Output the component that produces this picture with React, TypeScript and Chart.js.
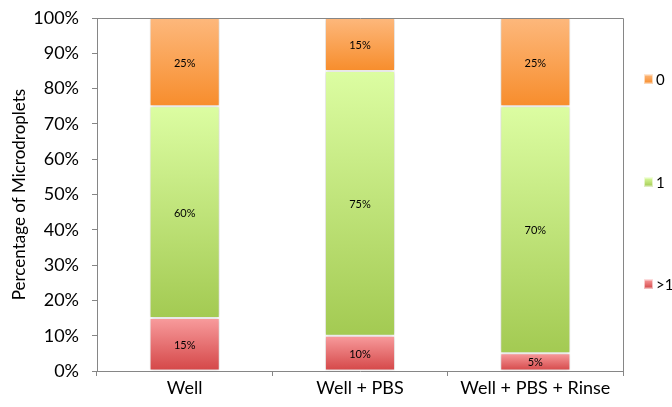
import { useEffect, useRef } from "react";
import { Chart, registerables } from "chart.js";

Chart.register(...registerables);

// Share of microdroplets per treatment, stacked to 100%
const categories = ["Well", "Well + PBS", "Well + PBS + Rinse"];
const seriesNames = [">1", "1", "0"];
const moreThanOne = [15, 10, 5];
const exactlyOne = [60, 75, 70];
const none = [25, 15, 25];
const yTickValues = [0, 10, 20, 30, 40, 50, 60, 70, 80, 90, 100];

// Top / bottom colours of each segment's vertical gradient
const gradientStops: Record<string, [string, string]> = {
  ">1": ["#F89C9D", "#D44647"],
  "1": ["#DCFDA2", "#A3CA52"],
  "0": ["#FDB87C", "#F78D2C"],
};

const FONT = "Lato, 'Open Sans', sans-serif";
const AXIS_GREY = "#868686";

function segmentGradient(chart: Chart, key: string, y0: number, y1: number) {
  const [top, bottom] = gradientStops[key];
  if (!isFinite(y0) || !isFinite(y1) || y0 === y1) return bottom;
  const g = chart.ctx.createLinearGradient(0, y0, 0, y1);
  g.addColorStop(0, top);
  g.addColorStop(1, bottom);
  return g;
}

const barShadow = {
  id: "barShadow",
  beforeDatasetsDraw(chart: Chart) {
    const ctx = chart.ctx;
    ctx.save();
    ctx.shadowColor = "rgba(0,0,0,0.22)";
    ctx.shadowBlur = 4;
    ctx.shadowOffsetX = 0;
    ctx.shadowOffsetY = 0;
  },
  afterDatasetsDraw(chart: Chart) {
    chart.ctx.restore();
  },
};

const plotFrame = {
  id: "plotFrame",
  afterDatasetsDraw(chart: Chart) {
    const { ctx, chartArea } = chart;
    ctx.save();
    ctx.strokeStyle = AXIS_GREY;
    ctx.lineWidth = 1;
    ctx.beginPath();
    ctx.moveTo(Math.round(chartArea.left) + 0.5, Math.round(chartArea.top) + 0.5);
    ctx.lineTo(Math.round(chartArea.right) + 0.5, Math.round(chartArea.top) + 0.5);
    ctx.lineTo(Math.round(chartArea.right) + 0.5, Math.round(chartArea.bottom) + 0.5);
    ctx.stroke();
    ctx.restore();
  },
};

const segmentLabels = {
  id: "segmentLabels",
  afterDatasetsDraw(chart: Chart) {
    const ctx = chart.ctx;
    ctx.save();
    ctx.font = `11px ${FONT}`;
    ctx.fillStyle = "#000";
    ctx.textAlign = "center";
    ctx.textBaseline = "middle";
    chart.data.datasets.forEach((ds, di) => {
      const meta = chart.getDatasetMeta(di);
      meta.data.forEach((el: any, i) => {
        const { x, y, base } = el.getProps(["x", "y", "base"], true);
        ctx.fillText(`${ds.data[i]}%`, x, (y + base) / 2 + 1);
      });
    });
    ctx.restore();
  },
};

const sideLegend = {
  id: "sideLegend",
  afterDraw(chart: Chart) {
    const ctx = chart.ctx;
    const rowsY = [79, 182, 284];
    const order = [...seriesNames].reverse();
    ctx.save();
    ctx.font = `15px ${FONT}`;
    ctx.textBaseline = "middle";
    ctx.textAlign = "left";
    order.forEach((name, k) => {
      const cy = rowsY[k];
      const bx = 644;
      const by = cy - 4.5;
      ctx.fillStyle = segmentGradient(chart, name, by, by + 9) as any;
      ctx.fillRect(bx, by, 9, 9);
      ctx.strokeStyle = "rgba(255,255,255,0.6)";
      ctx.lineWidth = 1;
      ctx.strokeRect(bx + 0.5, by + 0.5, 8, 8);
      ctx.fillStyle = "#000";
      ctx.fillText(name, 656, cy + 1);
    });
    ctx.restore();
  },
};

export default function App() {
  const canvasRef = useRef<HTMLCanvasElement | null>(null);

  useEffect(() => {
    const canvas = canvasRef.current;
    if (!canvas) return;
    const seriesValues = [moreThanOne, exactlyOne, none];

    const datasets = seriesNames.map((name, si) => ({
      label: name,
      data: seriesValues[si],
      borderWidth: 1,
      borderColor: "rgba(255,255,255,0.18)",
      borderSkipped: false as const,
      backgroundColor: (c: any) => {
        const chart: Chart = c.chart;
        const ys: any = chart.scales && chart.scales.y;
        if (c.type !== "data" || !ys) return gradientStops[name][1];
        let start = 0;
        for (let k = 0; k < si; k++) start += seriesValues[k][c.dataIndex];
        const end = start + seriesValues[si][c.dataIndex];
        return segmentGradient(chart, name, ys.getPixelForValue(end), ys.getPixelForValue(start));
      },
      categoryPercentage: 1,
      barPercentage: 0.4,
    }));

    const chart = new Chart(canvas, {
      type: "bar",
      data: { labels: categories, datasets },
      plugins: [barShadow, plotFrame, segmentLabels, sideLegend],
      options: {
        animation: false,
        responsive: false,
        maintainAspectRatio: false,
        layout: { padding: { left: 0, top: 18, right: 49, bottom: 0 } },
        plugins: {
          legend: { display: false },
          tooltip: { enabled: false },
        },
        scales: {
          x: {
            stacked: true,
            grid: {
              offset: true,
              drawOnChartArea: false,
              drawTicks: true,
              tickLength: 5,
              color: AXIS_GREY,
            },
            border: { color: AXIS_GREY, width: 1 },
            ticks: {
              color: "#000",
              font: { family: FONT, size: 18 },
              padding: 1,
              maxRotation: 0,
            },
            afterFit(scale: any) {
              scale.height = 36;
              scale.paddingLeft = 0;
              scale.paddingRight = 0;
            },
          },
          y: {
            stacked: true,
            min: 0,
            max: 100,
            afterBuildTicks(scale: any) {
              scale.ticks = yTickValues.map((v) => ({ value: v }));
            },
            grid: {
              drawOnChartArea: false,
              drawTicks: true,
              tickLength: 5,
              color: AXIS_GREY,
            },
            border: { color: AXIS_GREY, width: 1 },
            ticks: {
              color: "#000",
              font: { family: FONT, size: 18 },
              padding: 13,
              callback: (v: any) => `${v}%`,
            },
            title: {
              display: true,
              text: "Percentage of Microdroplets",
              color: "#000",
              font: { family: FONT, size: 17 },
              padding: { top: 9, bottom: 0 },
            },
            afterFit(scale: any) {
              scale.width = 97;
              scale.paddingTop = 0;
              scale.paddingBottom = 0;
            },
          },
        },
      },
    });

    return () => chart.destroy();
  }, []);

  return (
    <div style={{ position: "fixed", left: 0, top: 0, width: 672, height: 407, background: "#fff" }}>
      <canvas ref={canvasRef} width={672} height={407} style={{ display: "block", width: 672, height: 407 }} />
    </div>
  );
}
